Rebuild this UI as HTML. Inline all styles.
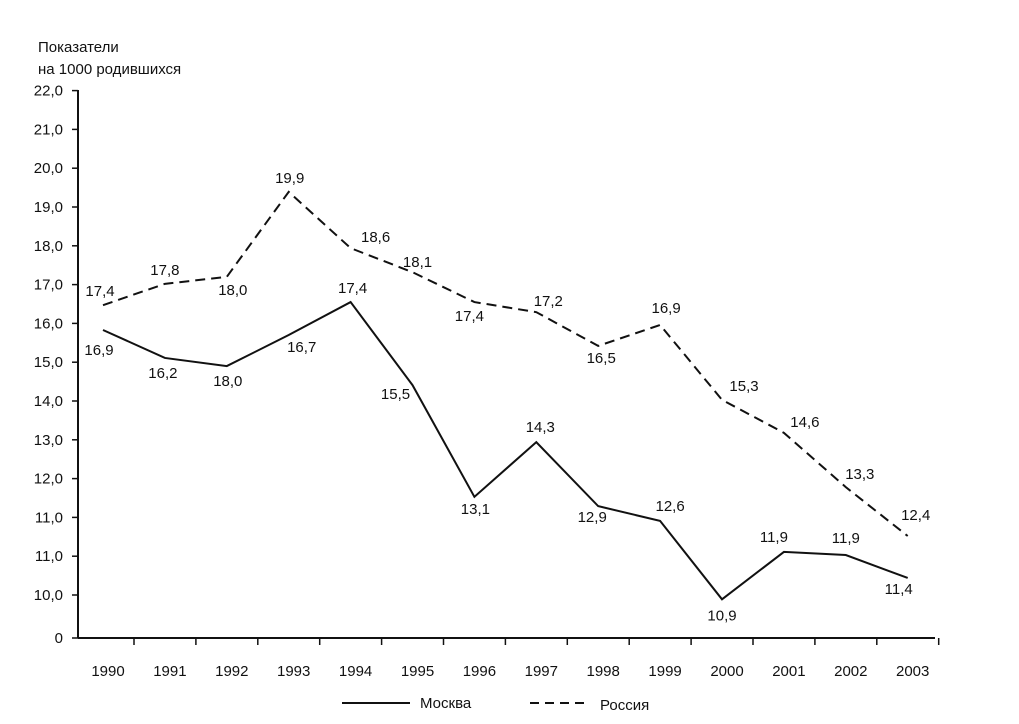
<!DOCTYPE html>
<html><head><meta charset="utf-8"><style>
body{margin:0;background:#fff}
svg text{font-family:"Liberation Sans",sans-serif;font-size:15px;fill:#111}
</style></head><body>
<svg width="1019" height="719" viewBox="0 0 1019 719">
<text x="38" y="52">Показатели</text>
<text x="38" y="74">на 1000 родившихся</text>
<g id="axes"></g><g id="series"></g><g id="labels"></g>
<g>
<line x1="342" y1="703" x2="410" y2="703" stroke="#111" stroke-width="2"/>
<text x="420" y="708">Москва</text>
<line x1="530" y1="703" x2="588" y2="703" stroke="#111" stroke-width="2" stroke-dasharray="9,6"/>
<text x="600" y="710">Россия</text>
</g>
</svg>
<script>
const years=["1990","1991","1992","1993","1994","1995","1996","1997","1998","1999","2000","2001","2002","2003"];
const yTickLabels=["0","10,0","11,0","11,0","12,0","13,0","14,0","15,0","16,0","17,0","18,0","19,0","20,0","21,0","22,0"];
const moscow=[7.83,7.11,6.90,7.70,8.55,6.41,3.53,4.94,3.29,2.91,0.90,2.11,2.03,1.44];
const russia=[8.47,9.02,9.20,11.39,9.94,9.32,8.55,8.29,7.42,7.96,6.03,5.18,3.78,2.52];
const moscowLabels=["16,9","16,2","18,0","16,7","17,4","15,5","13,1","14,3","12,9","12,6","10,9","11,9","11,9","11,4"];
const russiaLabels=["17,4","17,8","18,0","19,9","18,6","18,1","17,4","17,2","16,5","16,9","15,3","14,6","13,3","12,4"];
const moscowOff=[[-4,25],[-2,20],[1,20],[13,17],[2,-9],[-17,14],[1,17],[4,-10],[-6,16],[10,-10],[0,21],[-10,-10],[0,-12],[-9,16]];
const russiaOff=[[-3,-9],[0,-9],[6,18],[1,-9],[25,-6],[5,-5],[-5,19],[12,-6],[3,17],[6,-12],[22,-9],[21,-6],[14,-8],[8,-16]];
const NS="http://www.w3.org/2000/svg";
function X(i){return 103+i*61.9;}
function Y(v){return v<=1?638-v*43:595-(v-1)*38.8;}
function mk(t,a,p){const e=document.createElementNS(NS,t);for(const k in a)e.setAttribute(k,a[k]);p.appendChild(e);return e;}
const ax=document.getElementById('axes'),se=document.getElementById('series'),lb=document.getElementById('labels');
const yl=mk('line',{x1:78,y1:90,x2:78,y2:638,stroke:'#111','stroke-width':2},ax);


const xl=mk('line',{x1:78,y1:638,x2:935,y2:638,stroke:'#111','stroke-width':2},ax);


yTickLabels.forEach((t,i)=>{const y=Y(i);
mk('line',{x1:72,y1:y,x2:78,y2:y,stroke:'#111','stroke-width':1.5},ax);
const e=mk('text',{x:63,y:y+5,'text-anchor':'end'},ax);e.textContent=t;

});
years.forEach((t,i)=>{const x=X(i);
mk('line',{x1:x+31,y1:638,x2:x+31,y2:645,stroke:'#111','stroke-width':1.5},ax);
const e=mk('text',{x:x+5,y:676,'text-anchor':'middle'},ax);e.textContent=t;

});
function line(vals,dash,name){const p=mk('polyline',{points:vals.map((v,i)=>X(i)+','+Y(v)).join(' '),fill:'none',stroke:'#111','stroke-width':2},se);
if(dash)p.setAttribute('stroke-dasharray','10,6');

}
line(moscow,false,'moscow-line');line(russia,true,'russia-line');
function labs(vals,txt,off,name){vals.forEach((v,i)=>{const e=mk('text',{x:X(i)+off[i][0],y:Y(v)+off[i][1],'text-anchor':'middle'},lb);e.textContent=txt[i];

});}
labs(moscow,moscowLabels,moscowOff,'moscow-value-label');labs(russia,russiaLabels,russiaOff,'russia-value-label');
</script>
</body></html>
